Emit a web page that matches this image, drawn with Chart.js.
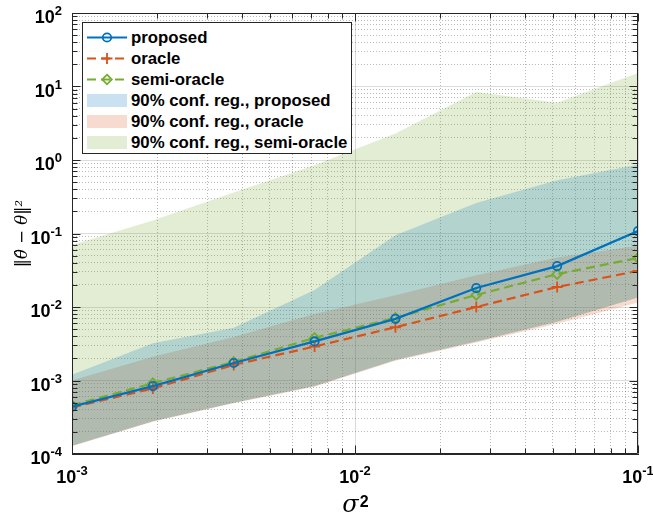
<!DOCTYPE html>
<html><head><meta charset="utf-8">
<script src="https://cdn.jsdelivr.net/npm/chart.js@4.4.1/dist/chart.umd.min.js"></script>
<style>
html,body{margin:0;padding:0;background:#fff;}
#wrap{position:relative;width:653px;height:516px;}
#legend{position:absolute;left:82px;top:22px;width:270px;height:132px;border:1px solid #262626;background:#fff;
  font:bold 16.8px "Liberation Sans",Arial,sans-serif;color:#000;box-sizing:border-box;padding-top:4px;}
.row{height:21px;display:flex;align-items:center;white-space:nowrap;}
.row svg{margin-left:4px;margin-right:4px;flex:none;}
</style></head>
<body><div id="wrap"><canvas id="c" width="653" height="516"></canvas><div id="legend"></div></div>
<script>
// ---- data ----
const sigma2 = [0.001, 0.0019307, 0.0037276, 0.0071969, 0.013895, 0.026827, 0.051795, 0.1];

const proposed   = [4.4e-4, 8.4e-4, 1.73e-3, 3.4e-3, 6.9e-3, 1.81e-2, 3.6e-2, 1.08e-1];
const oracle     = [4.3e-4, 7.8e-4, 1.63e-3, 2.9e-3, 5.3e-3, 1.0e-2, 1.87e-2, 3.1e-2];
const semiOracle = [4.6e-4, 9.2e-4, 1.79e-3, 3.8e-3, 7.1e-3, 1.46e-2, 2.8e-2, 4.65e-2];

const proposedLow  = [1.3e-4, 2.8e-4, 5.0e-4, 8.4e-4, 1.9e-3, 3.4e-3, 6.3e-3, 1.35e-2];
const proposedHigh = [1.2e-3, 3.2e-3, 5.2e-3, 1.7e-2, 9.5e-2, 0.26, 0.53, 0.86];
const oracleLow    = [1.27e-4, 2.75e-4, 4.9e-4, 8.2e-4, 1.85e-3, 3.3e-3, 5.9e-3, 1.15e-2];
const oracleHigh   = [1.0e-3, 2.1e-3, 3.9e-3, 8.0e-3, 1.45e-2, 2.7e-2, 4.7e-2, 6.8e-2];
const semiLow      = [1.3e-4, 2.8e-4, 5.0e-4, 8.4e-4, 1.9e-3, 3.4e-3, 6.3e-3, 1.35e-2];
const semiHigh     = [0.07, 0.15, 0.36, 0.85, 2.3, 8.4, 6.0, 15.3];

const seriesNames = ['proposed', 'oracle', 'semi-oracle'];
const bandNames = ['90% conf. reg., proposed', '90% conf. reg., oracle', '90% conf. reg., semi-oracle'];

const xTickValues = [0.001, 0.01, 0.1];
const xTickExps = ['-3', '-2', '-1'];
const yTickValues = [1e-4, 1e-3, 1e-2, 1e-1, 1, 10, 100];
const yTickExps = ['-4', '-3', '-2', '-1', '0', '1', '2'];
const tickBase = '10';

const xTitleBase = 'σ', xTitleExp = '2';
const yTitle = '‖θ̂ − θ‖²';

// ---- styling ----
const C_BLUE = 'rgb(0,114,189)', C_ORANGE = 'rgb(217,83,25)', C_GREEN = 'rgb(119,172,48)';
const F_BLUE = 'rgba(0,114,189,0.21)', F_ORANGE = 'rgba(217,83,25,0.21)', F_GREEN = 'rgba(119,172,48,0.21)';
const DASH = [9, 5];
const SANS = '"Liberation Sans", Arial, sans-serif';

const pts = arr => sigma2.map((x, i) => ({x: x, y: arr[i]}));

function withMinors(majors) {
  const out = [];
  for (let i = 0; i < majors.length; i++) {
    out.push({value: majors[i]});
    if (i < majors.length - 1) for (let m = 2; m <= 9; m++) out.push({value: majors[i] * m});
  }
  return out;
}
function majorIndex(v, majors) {
  if (v === undefined) return -1;
  for (let i = 0; i < majors.length; i++) if (Math.abs(Math.log10(v) - Math.log10(majors[i])) < 1e-9) return i;
  return -1;
}

function lineDs(label, arr, color, dash, style, radius) {
  return {label, data: pts(arr), borderColor: color, backgroundColor: color, borderWidth: 2.2, borderDash: dash,
    pointStyle: style, pointRadius: radius, pointBorderWidth: 1.8, pointBorderColor: color,
    pointBackgroundColor: 'rgba(0,0,0,0)', fill: false, tension: 0};
}
function bandLow(arr) {
  return {label: '', data: pts(arr), borderWidth: 0, borderColor: 'rgba(0,0,0,0)', pointRadius: 0, fill: false, tension: 0};
}
function bandHigh(label, arr, fillColor, target) {
  return {label, data: pts(arr), borderWidth: 0, borderColor: 'rgba(0,0,0,0)', backgroundColor: fillColor,
    pointRadius: 0, fill: {target: target}, tension: 0};
}

const datasets = [
  lineDs(seriesNames[0], proposed, C_BLUE, [], 'circle', 4.2),
  lineDs(seriesNames[1], oracle, C_ORANGE, DASH, 'cross', 5.5),
  lineDs(seriesNames[2], semiOracle, C_GREEN, DASH, 'rectRot', 4.8),
  bandLow(proposedLow), bandHigh(bandNames[0], proposedHigh, F_BLUE, 3),
  bandLow(oracleLow), bandHigh(bandNames[1], oracleHigh, F_ORANGE, 5),
  bandLow(semiLow), bandHigh(bandNames[2], semiHigh, F_GREEN, 7)
];

const AXIS = '#262626';
const gridColor = (majors) => (ctx) => majorIndex(ctx.tick && ctx.tick.value, majors) >= 0 ? 'rgba(38,38,38,0.16)' : 'rgba(38,38,38,0.32)';
const gridDash = (majors) => (ctx) => (ctx.tick && majorIndex(ctx.tick.value, majors) < 0) ? [1, 2] : [];

function drawPow(ctx, base, exp, x, baseline, align) {
  ctx.font = 'bold 18px ' + SANS;
  const w1 = ctx.measureText(base).width;
  ctx.font = 'bold 13px ' + SANS;
  const w2 = ctx.measureText(exp).width;
  const total = w1 + w2;
  const start = align === 'center' ? x - total / 2 : x - total;
  ctx.font = 'bold 18px ' + SANS;
  ctx.fillText(base, start, baseline);
  ctx.font = 'bold 13px ' + SANS;
  ctx.fillText(exp, start + w1, baseline - 8);
}

const boxPlugin = {
  id: 'boxTicks',
  afterDatasetsDraw(chart) {
    const {ctx, chartArea: a} = chart;
    const xs = chart.scales.x, ys = chart.scales.y;
    const L = Math.round(a.left) + 0.5, R = Math.round(a.right) - 0.5, T = Math.round(a.top) + 0.5, B = Math.round(a.bottom) - 0.5;
    ctx.save();
    ctx.strokeStyle = AXIS; ctx.lineWidth = 1; ctx.setLineDash([]);
    ctx.beginPath();
    ctx.rect(L, T, R - L, B - T);
    xs.ticks.forEach(t => {
      const p = Math.round(xs.getPixelForValue(t.value)) + 0.5;
      const len = majorIndex(t.value, xTickValues) >= 0 ? 8 : 5;
      ctx.moveTo(p, B); ctx.lineTo(p, B - len);
      ctx.moveTo(p, T); ctx.lineTo(p, T + len);
    });
    ys.ticks.forEach(t => {
      const p = Math.round(ys.getPixelForValue(t.value)) + 0.5;
      const len = majorIndex(t.value, yTickValues) >= 0 ? 8 : 5;
      ctx.moveTo(L, p); ctx.lineTo(L + len, p);
      ctx.moveTo(R, p); ctx.lineTo(R - len, p);
    });
    ctx.stroke();
    ctx.restore();
  },
  afterDraw(chart) {
    const {ctx, chartArea: a} = chart;
    const xs = chart.scales.x, ys = chart.scales.y;
    ctx.save();
    ctx.fillStyle = '#000';
    ctx.textBaseline = 'alphabetic';
    ctx.textAlign = 'left';
    xTickValues.forEach((v, i) => {
      drawPow(ctx, tickBase, xTickExps[i], xs.getPixelForValue(v), a.bottom + 29, 'center');
    });
    yTickValues.forEach((v, i) => {
      drawPow(ctx, tickBase, yTickExps[i], a.left - 10, ys.getPixelForValue(v) + 10, 'right');
    });
    // x axis title: sigma^2
    const cx = (a.left + a.right) / 2;
    ctx.font = 'italic 24px "DejaVu Serif", "Liberation Serif", serif';
    const ws = ctx.measureText(xTitleBase).width;
    ctx.font = 'bold 16px ' + SANS;
    const we = ctx.measureText(xTitleExp).width;
    const sx = cx - (ws + we) / 2;
    ctx.font = 'italic 24px "DejaVu Serif", "Liberation Serif", serif';
    ctx.fillText(xTitleBase, sx, 512);
    ctx.font = 'bold 16px ' + SANS;
    ctx.fillText(xTitleExp, sx + ws + 1, 507);
    ctx.restore();
  }
};

new Chart(document.getElementById('c'), {
  type: 'line',
  data: {datasets},
  plugins: [boxPlugin],
  options: {
    responsive: false,
    animation: false,
    layout: {padding: {top: 13, right: 15, left: 0, bottom: 0}},
    plugins: {legend: {display: false}, tooltip: {enabled: false}},
    scales: {
      x: {
        type: 'logarithmic', min: 0.001, max: 0.1,
        afterBuildTicks: s => { s.ticks = withMinors(xTickValues); },
        afterFit: s => { s.height = 62; },
        ticks: {display: false, autoSkip: false, maxRotation: 0},
        grid: {color: gridColor(xTickValues), lineWidth: 1, drawTicks: false},
        border: {color: AXIS, width: 1, dash: gridDash(xTickValues)},
        title: {display: false}
      },
      y: {
        type: 'logarithmic', min: 1e-4, max: 100,
        afterBuildTicks: s => { s.ticks = withMinors(yTickValues); },
        afterFit: s => { s.width = 72; },
        ticks: {display: false, autoSkip: false},
        grid: {color: gridColor(yTickValues), lineWidth: 1, drawTicks: false},
        border: {color: AXIS, width: 1, dash: gridDash(yTickValues)},
        title: {display: true, text: yTitle, color: '#000', padding: {top: 13, bottom: 0},
          font: {family: '"DejaVu Serif", serif', size: 16.5, style: 'italic'}}
      }
    }
  }
});

// ---- legend (HTML overlay) ----
const legendEl = document.getElementById('legend');
const lineSpecs = [
  {color: C_BLUE, dash: '', marker: 'circle'},
  {color: C_ORANGE, dash: '9,5', marker: 'cross'},
  {color: C_GREEN, dash: '9,5', marker: 'diamond'}
];
const fills = [F_BLUE, F_ORANGE, F_GREEN];
function markerSvg(m, c) {
  if (m === 'circle') return `<circle cx="20" cy="10.5" r="4.2" fill="none" stroke="${c}" stroke-width="1.8"/>`;
  if (m === 'cross') return `<path d="M14.5 10.5H25.5M20 5V16" stroke="${c}" stroke-width="1.8"/>`;
  return `<path d="M20 5.7L24.8 10.5L20 15.3L15.2 10.5Z" fill="none" stroke="${c}" stroke-width="1.8"/>`;
}
seriesNames.forEach((n, i) => {
  const s = lineSpecs[i];
  const row = document.createElement('div'); row.className = 'row';
  row.innerHTML = `<svg width="40" height="21"><line x1="0" y1="10.5" x2="40" y2="10.5" stroke="${s.color}" stroke-width="2.2" ${s.dash ? `stroke-dasharray="${s.dash}"` : ''}/>${markerSvg(s.marker, s.color)}</svg><span>${n}</span>`;
  legendEl.appendChild(row);
});
bandNames.forEach((n, i) => {
  const row = document.createElement('div'); row.className = 'row';
  row.innerHTML = `<svg width="40" height="21"><rect x="0" y="4" width="40" height="13" fill="${fills[i]}"/></svg><span>${n}</span>`;
  legendEl.appendChild(row);
});
</script>
</body></html>
